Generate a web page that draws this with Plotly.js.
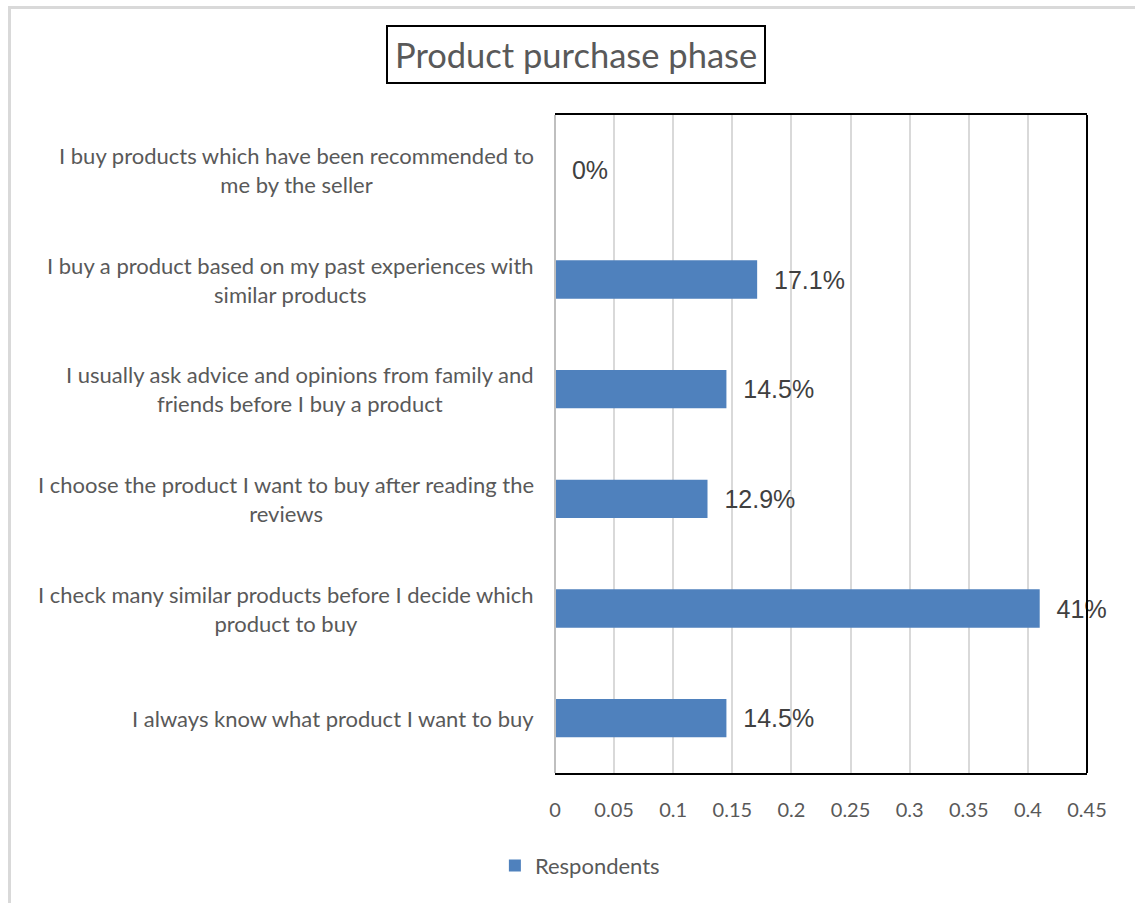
<!DOCTYPE html>
<html>
<head>
<meta charset="utf-8">
<script src="https://cdn.plot.ly/plotly-3.0.1.min.js"></script>
<style>
  html, body { margin: 0; padding: 0; background: #fff; overflow: hidden; }
  #chart { width: 1135px; height: 903px; position: absolute; left: 0; top: 0; }
  #frame { position: absolute; left: 8px; top: 6px; width: 1200px; height: 1000px;
           border-left: 3px solid #d9d9d9; border-top: 3px solid #d9d9d9; pointer-events: none; }
</style>
</head>
<body>
<div id="chart"></div>
<div id="frame"></div>
<script>
// Categories, top to bottom as shown
const categories = [
  "I buy products which have been recommended to<br>me by the seller",
  "I buy a product based on my past experiences with<br>similar products",
  "I usually ask advice and opinions from family and<br>friends before I buy a product",
  "I choose the product I want to buy after reading the<br>reviews",
  "I check many similar products before I decide which<br>product to buy",
  "I always know what product I want to buy"
];
const values = [0, 0.171, 0.145, 0.129, 0.41, 0.145];
const valueLabels = ["0%", "17.1%", "14.5%", "12.9%", "41%", "14.5%"];
const xTickValues = [0, 0.05, 0.1, 0.15, 0.2, 0.25, 0.3, 0.35, 0.4, 0.45];
const seriesName = "Respondents";
const chartTitle = "Product purchase phase";

const labelFont = { family: "Lato, 'Open Sans', sans-serif", size: 22, color: "#595959" };
const tickFont = { family: "Lato, 'Open Sans', sans-serif", size: 20, color: "#595959" };

const trace = {
  type: "bar",
  orientation: "h",
  x: values,
  y: categories,
  name: seriesName,
  text: valueLabels,
  texttemplate: "\u00a0\u00a0%{text}",
  textposition: "outside",
  constraintext: "none",
  cliponaxis: false,
  textfont: { family: "'Liberation Sans', Arial, sans-serif", size: 25, color: "#404040" },
  marker: { color: "#4f81bd", line: { width: 0 } },
  width: 0.35,
  hoverinfo: "none",
  showlegend: true
};

const annotations = categories.map(c => ({
  xref: "paper", yref: "y", x: -0.036, y: c,
  xanchor: "right", yanchor: "middle", align: "center",
  text: c, showarrow: false, font: labelFont
}));
annotations.push({
  xref: "paper", yref: "paper", x: 0.0404, y: 1.092,
  xanchor: "center", yanchor: "middle",
  text: chartTitle, showarrow: false,
  font: { family: "Lato, 'Open Sans', sans-serif", size: 34.5, color: "#595959" },
  bordercolor: "#000", borderwidth: 2, borderpad: 7
});

const layout = {
  width: 1135, height: 903,
  margin: { l: 555, r: 48, t: 115, b: 130 },
  paper_bgcolor: "#fff", plot_bgcolor: "#fff",
  showlegend: true,
  legend: {
    orientation: "h", x: -0.113, y: -0.109, xanchor: "left", yanchor: "top",
    font: labelFont, itemwidth: 30
  },
  xaxis: {
    range: [0, 0.45], tickvals: xTickValues, ticktext: xTickValues.map(String),
    showgrid: true, gridcolor: "#d9d9d9", gridwidth: 2,
    zeroline: false,
    showline: true, mirror: true, linecolor: "#000", linewidth: 2,
    ticks: "", tickfont: tickFont, ticklabelstandoff: 18, fixedrange: true
  },
  yaxis: {
    type: "category", autorange: "reversed",
    showticklabels: false, ticks: "", showgrid: false, zeroline: false,
    showline: false, fixedrange: true
  },
  shapes: [
    { type: "line", xref: "paper", yref: "paper", x0: 0, x1: 0, y0: 0, y1: 1,
      line: { color: "#bfbfbf", width: 2 } },
    { type: "line", xref: "paper", yref: "paper", x0: 1, x1: 1, y0: 0, y1: 1,
      line: { color: "#000", width: 2 } }
  ],
  annotations: annotations,
  bargap: 0.65
};

Plotly.newPlot("chart", [trace], layout, { displayModeBar: false, staticPlot: true });
</script>
</body>
</html>
